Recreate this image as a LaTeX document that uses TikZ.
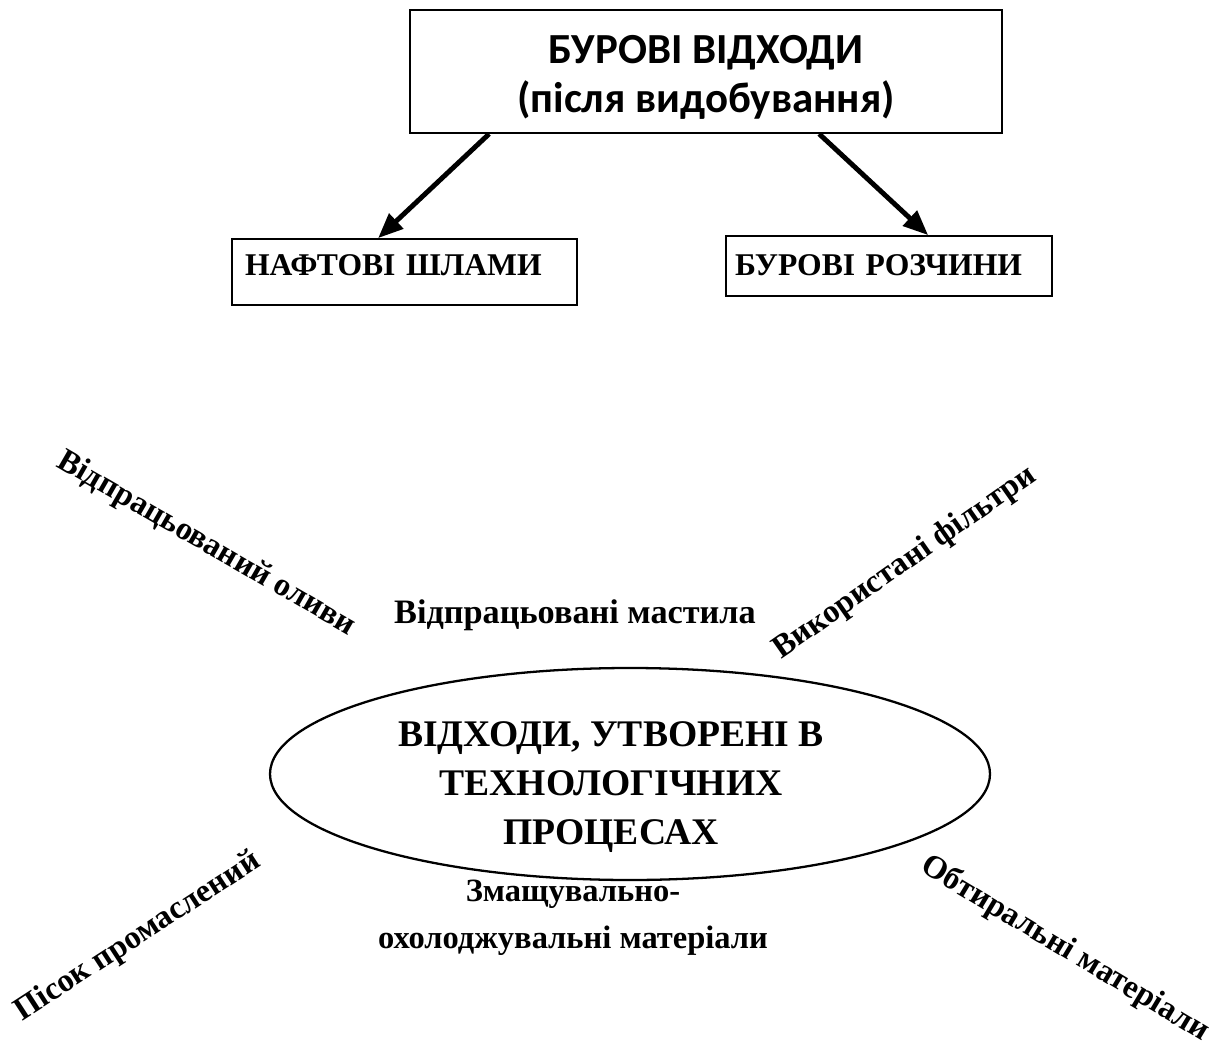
\documentclass[tikz,border=0pt]{standalone}
\usepackage{fontspec}
\setmainfont{Liberation Serif}
\newfontfamily\titlefont{Carlito}
\usetikzlibrary{shapes.geometric}
\usetikzlibrary{arrows.meta}

\begin{document}
\begin{tikzpicture}[scale=1]
        % ================= 样式定义 =================
        \tikzset{
            % 顶部标题框
            titlebox/.style={rectangle, draw=black, line width=1pt, minimum width=11.84cm, inner sep=0pt, align=center, font=\titlefont\bfseries\fontsize{24.4pt}{28.4pt}\selectfont},
            % 下级小框 (文字靠左)
            subbox/.style={rectangle, draw=black, line width=1pt, inner ysep=0pt, align=left, font=\bfseries\fontsize{18pt}{22pt}\selectfont},
            % 中间椭圆
            procnode/.style={ellipse, draw=black, line width=1.3pt, minimum width=14.4cm, minimum height=4.24cm, inner sep=0pt},
            % 椭圆内文字
            proctext/.style={align=center, inner sep=0pt, font=\bfseries\fontsize{21.4pt}{27.8pt}\selectfont},
            % 周围的废物名称
            wastetext/.style={inner sep=0pt, font=\bfseries\fontsize{18.5pt}{26.5pt}\selectfont},
            % 粗箭头
            thickarrow/.style={line width=2.8pt, -{Triangle[length=0.5cm, width=0.4cm]}}
        }

        \useasboundingbox (0,0) rectangle (24.62,-20.9);

        % ================= 上部:钻井废物 =================
        \node[titlebox, text height=2.06cm, text depth=0.4cm] (drill) at (14.12,-1.43) {БУРОВІ ВІДХОДИ\\(після видобування)};

        \node[subbox, inner xsep=0.26cm, text width=6.38cm, text height=0.72cm, text depth=0.6cm] (sludge) at (8.09,-5.44) {НАФТОВІ ШЛАМИ};
        \node[subbox, inner xsep=0.18cm, text width=6.16cm, text height=0.78cm, text depth=0.42cm] (mud) at (17.78,-5.32) {БУРОВІ РОЗЧИНИ};

        \draw[thickarrow] ([xshift=1.6cm]drill.south west) -- ([xshift=2.94cm]sludge.north west);
        \draw[thickarrow] ([xshift=8.2cm]drill.south west) -- ([xshift=4.06cm]mud.north west);

        % ================= 下部:工艺过程废物 =================
        \node[procnode] (proc) at (12.6,-15.48) {};
        \node[proctext] (proclabel) at (12.22,-15.74) {ВІДХОДИ, УТВОРЕНІ В\\ТЕХНОЛОГІЧНИХ\\ПРОЦЕСАХ};

        % 四周斜放的文字
        \node[wastetext, rotate=-30] (oil) at (4.12,-10.88) {Відпрацьований оливи};
        \node[wastetext, rotate=35] (filters) at (18.1,-11.26) {Використані фільтри};
        \node[wastetext, rotate=33] (sand) at (2.76,-18.74) {Пісок промаслений};
        \node[wastetext, rotate=-31] (rags) at (21.3,-18.98) {Обтиральні матеріали};

        % 椭圆上下的文字
        \node[wastetext, font=\bfseries\fontsize{19.5pt}{26.5pt}\selectfont] (lube) at (11.5,-12.3) {Відпрацьовані мастила};
        \node[wastetext, align=center] (coolant) at (11.46,-18.36) {Змащувально-\\охолоджувальні матеріали};

    \end{tikzpicture}
\end{document}
